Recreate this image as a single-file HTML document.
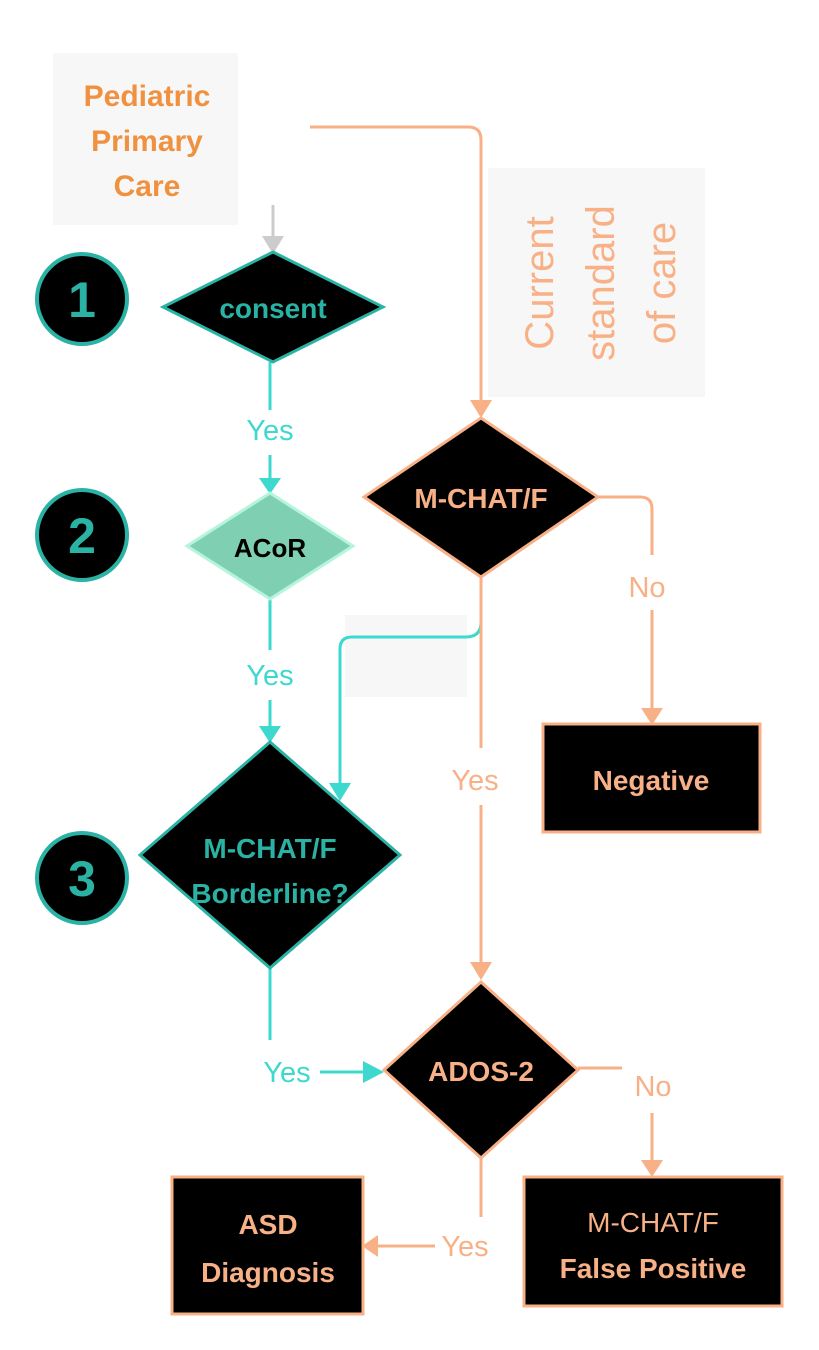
<!DOCTYPE html>
<html><head><meta charset="utf-8"><style>
html,body{margin:0;padding:0;background:#fff;}
svg{display:block;font-family:"Liberation Sans",sans-serif;}
</style></head><body>
<svg width="819" height="1350" viewBox="0 0 819 1350" xmlns="http://www.w3.org/2000/svg">
<defs>
<marker id="ap" markerWidth="10" markerHeight="10" refX="5" refY="5" orient="auto" markerUnits="userSpaceOnUse"></marker>
</defs>
<!-- background boxes -->
<rect x="53" y="53" width="185" height="172" fill="#f7f7f7"/>
<rect x="488" y="168" width="217" height="229" fill="#f7f7f7"/>
<rect x="345" y="615" width="122" height="82" fill="#f7f7f7"/>
<!-- Pediatric text -->
<g fill="#f0913f" font-weight="bold" font-size="30" text-anchor="middle">
<text x="147" y="106">Pediatric</text>
<text x="147" y="151">Primary</text>
<text x="147" y="196">Care</text>
</g>
<!-- Current standard of care -->
<g fill="#f8b187" font-size="40" text-anchor="middle">
<text transform="translate(553,283) rotate(-90)">Current</text>
<text transform="translate(614,283) rotate(-90)">standard</text>
<text transform="translate(675,283) rotate(-90)">of care</text>
</g>
<!-- gray arrow -->
<line x1="273" y1="205" x2="273" y2="238" stroke="#cccccc" stroke-width="3"/>
<polygon points="262,236 284,236 273,254" fill="#cccccc"/>
<!-- circles -->
<g stroke="#2ab3a5" stroke-width="4" fill="#000">
<circle cx="82" cy="299" r="45"/>
<circle cx="82" cy="535" r="45"/>
<circle cx="82" cy="878" r="45"/>
</g>
<g fill="#2ab3a5" font-size="50" font-weight="bold" text-anchor="middle">
<text x="82" y="317">1</text>
<text x="82" y="553">2</text>
<text x="82" y="896">3</text>
</g>
<!-- teal connectors -->
<g stroke="#3dd9cf" stroke-width="3" fill="none">
<line x1="270" y1="362" x2="270" y2="410"/>
<line x1="270" y1="455" x2="270" y2="480"/>
<line x1="270" y1="599" x2="270" y2="650"/>
<line x1="270" y1="700" x2="270" y2="728"/>
<line x1="270" y1="968" x2="270" y2="1040"/>
<line x1="320" y1="1072" x2="365" y2="1072"/>
<path d="M481 577 V622 Q481 637 466 637 H352 Q340 637 340 649 V785"/>
</g>
<g fill="#3dd9cf">
<polygon points="259,478 281,478 270,494"/>
<polygon points="259,726 281,726 270,743"/>
<polygon points="329,783 351,783 340,801"/>
<polygon points="363,1061 363,1083 384,1072"/>
</g>
<g fill="#3dd9cf" font-size="29" text-anchor="middle">
<text x="270" y="440">Yes</text>
<text x="270" y="685">Yes</text>
<text x="287" y="1082">Yes</text>
</g>
<!-- peach connectors -->
<g stroke="#f8b187" stroke-width="3" fill="none">
<path d="M310 127 H468 Q481 127 481 140 V402"/>
<path d="M598 497 H640 Q652 497 652 509 V555"/>
<line x1="652" y1="610" x2="652" y2="710"/>
<line x1="481" y1="577" x2="481" y2="748"/>
<line x1="481" y1="805" x2="481" y2="964"/>
<path d="M578 1068 H622"/>
<line x1="652" y1="1113" x2="652" y2="1162"/>
<line x1="481" y1="1158" x2="481" y2="1217"/>
<line x1="435" y1="1246" x2="376" y2="1246"/>
</g>
<g fill="#f8b187">
<polygon points="470,400 492,400 481,418"/>
<polygon points="641,708 663,708 652,725"/>
<polygon points="470,962 492,962 481,980"/>
<polygon points="641,1160 663,1160 652,1177"/>
<polygon points="378,1235 378,1257 362,1246"/>
</g>
<g fill="#f8b187" font-size="29" text-anchor="middle">
<text x="647" y="597">No</text>
<text x="475" y="790">Yes</text>
<text x="653" y="1096">No</text>
<text x="465" y="1256">Yes</text>
</g>
<!-- diamonds -->
<polygon points="273,252 383,307 273,362 163,307" fill="#000" stroke="#2ab3a5" stroke-width="3"/>
<text x="273" y="318" fill="#2ab3a5" font-size="28" font-weight="bold" text-anchor="middle">consent</text>
<polygon points="270,493 353,546 270,599 187,546" fill="#7fcfb3" stroke="#b5f5dc" stroke-width="3"/>
<text x="270" y="557" fill="#000" font-size="26" font-weight="bold" text-anchor="middle">ACoR</text>
<polygon points="270,742 400,855 270,968 140,855" fill="#000" stroke="#2ab3a5" stroke-width="3"/>
<g fill="#2ab3a5" font-size="28" font-weight="bold" text-anchor="middle">
<text x="270" y="858">M-CHAT/F</text>
<text x="270" y="903">Borderline?</text>
</g>
<polygon points="481,418 598,497 481,577 364,497" fill="#000" stroke="#f8b187" stroke-width="3"/>
<text x="481" y="508" fill="#f8b187" font-size="28" font-weight="bold" text-anchor="middle">M-CHAT/F</text>
<polygon points="481,982 578,1070 481,1158 384,1070" fill="#000" stroke="#f8b187" stroke-width="3"/>
<text x="481" y="1081" fill="#f8b187" font-size="28" font-weight="bold" text-anchor="middle">ADOS-2</text>
<!-- rects -->
<rect x="543" y="724" width="217" height="108" fill="#000" stroke="#f8b187" stroke-width="3"/>
<text x="651" y="790" fill="#f8b187" font-size="28" font-weight="bold" text-anchor="middle">Negative</text>
<rect x="524" y="1177" width="258" height="129" fill="#000" stroke="#f8b187" stroke-width="3"/>
<text x="653" y="1232" fill="#f8b187" font-size="28" text-anchor="middle">M-CHAT/F</text>
<text x="653" y="1278" fill="#f8b187" font-size="28" font-weight="bold" text-anchor="middle">False Positive</text>
<rect x="172" y="1177" width="191" height="137" fill="#000" stroke="#f8b187" stroke-width="3"/>
<text x="268" y="1234" fill="#f8b187" font-size="28" font-weight="bold" text-anchor="middle">ASD</text>
<text x="268" y="1282" fill="#f8b187" font-size="28" font-weight="bold" text-anchor="middle">Diagnosis</text>
</svg>
</body></html>
